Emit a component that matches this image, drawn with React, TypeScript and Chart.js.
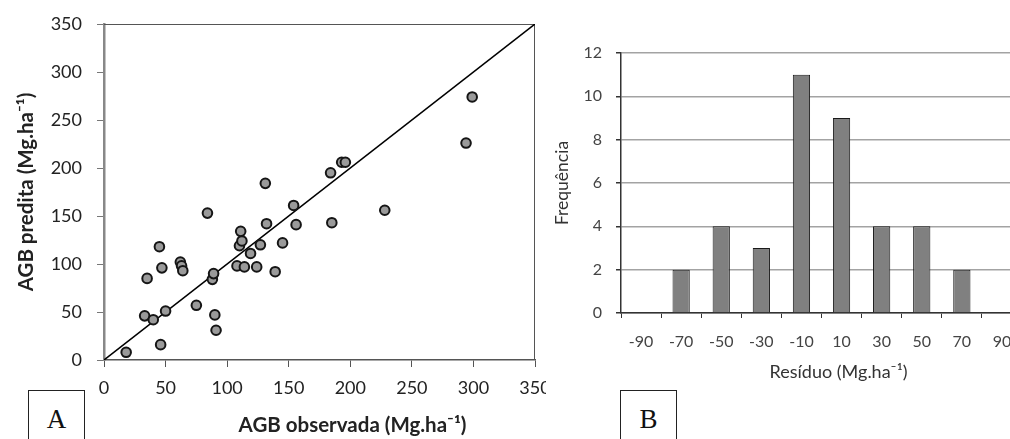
import React, { useEffect, useRef } from 'react';
import { Chart, registerables } from 'chart.js';

Chart.register(...registerables);

// ---- Panel A data: observed vs predicted AGB (Mg/ha) ----
const observed = [18, 33, 40, 50, 35, 45, 47, 46, 62, 63, 64, 75, 84, 88, 89, 90, 91, 108, 111, 110, 112, 114, 119, 124, 127, 132, 139, 145, 154, 156, 185, 131, 184, 193, 196, 299, 294, 228];
const predicted = [8, 46, 42, 51, 85, 118, 96, 16, 102, 98, 93, 57, 153, 84, 90, 47, 31, 98, 134, 119, 124, 97, 111, 97, 120, 142, 92, 122, 161, 141, 143, 184, 195, 206, 206, 274, 226, 156];
const identityLine = [0, 350];
const axisMinA = 0;
const axisMaxA = 350;
const axisStepA = 50;

// ---- Panel B data: residual histogram ----
const residualBins = ['-90', '-70', '-50', '-30', '-10', '10', '30', '50', '70', '90'];
const frequency = [0, 2, 4, 3, 11, 9, 4, 4, 2, 0];
const freqMax = 12;
const freqStep = 2;

const FONT = 'Lato, "Open Sans", "DejaVu Sans", sans-serif';

function captionPlugin(id: string, text: string, dx: number, yFromBottom: number, font: string, color: string) {
  return {
    id,
    afterDraw(chart: any) {
      const { ctx, chartArea } = chart;
      ctx.save();
      ctx.font = font;
      ctx.fillStyle = color;
      ctx.textAlign = 'center';
      ctx.textBaseline = 'middle';
      ctx.fillText(text, (chartArea.left + chartArea.right) / 2 + dx, chart.height - yFromBottom);
      ctx.restore();
    },
  };
}

const frameA = {
  id: 'frameA',
  beforeDatasetsDraw(chart: any) {
    const { ctx, chartArea: a } = chart;
    ctx.save();
    ctx.strokeStyle = '#555';
    ctx.lineWidth = 1;
    ctx.beginPath();
    ctx.moveTo(a.left, a.top + 0.5);
    ctx.lineTo(a.right - 0.5, a.top + 0.5);
    ctx.lineTo(a.right - 0.5, a.bottom);
    ctx.stroke();
    ctx.restore();
  },
};

export default function App() {
  const refA = useRef<HTMLCanvasElement>(null);
  const refB = useRef<HTMLCanvasElement>(null);

  useEffect(() => {
    Chart.defaults.font.family = FONT;

    const points = observed.map((x, i) => ({ x, y: predicted[i] }));
    const line = identityLine.map((v) => ({ x: v, y: v }));

    const chartA = new Chart(refA.current!, {
      type: 'scatter',
      data: {
        datasets: [
          {
            data: points,
            pointRadius: 4.8,
            pointBackgroundColor: '#9a9a9a',
            pointBorderColor: '#151515',
            pointBorderWidth: 2,
          },
          {
            data: line,
            showLine: true,
            pointRadius: 0,
            borderColor: '#000',
            borderWidth: 1.5,
          },
        ],
      },
      options: {
        animation: false,
        responsive: false,
        events: [],
        layout: { padding: { top: 24, right: 11, left: 0, bottom: 0 } },
        plugins: { legend: { display: false }, tooltip: { enabled: false } },
        scales: {
          x: {
            type: 'linear',
            min: axisMinA,
            max: axisMaxA,
            ticks: { stepSize: axisStepA, padding: 10, color: '#222', font: { size: 18 }, maxRotation: 0 },
            grid: { drawOnChartArea: false, tickLength: 7, color: '#555' },
            border: { color: '#555', width: 1.5 },
            afterFit(s: any) {
              s.height = 79;
              s.paddingLeft = 0;
              s.paddingRight = 0;
            },
          },
          y: {
            type: 'linear',
            min: axisMinA,
            max: axisMaxA,
            ticks: { stepSize: axisStepA, padding: 15, color: '#222', font: { size: 18 } },
            grid: { drawOnChartArea: false, tickLength: 7, color: '#777' },
            border: { color: '#888', width: 2.5 },
            title: {
              display: true,
              text: 'AGB predita (Mg.ha⁻¹)',
              color: '#222',
              font: { size: 20.5, weight: 'bold' },
              padding: { top: 14, bottom: 0 },
            },
            afterFit(s: any) {
              s.width = 104;
              s.paddingTop = 0;
              s.paddingBottom = 0;
            },
          },
        },
      },
      plugins: [
        frameA,
        captionPlugin('capA', 'AGB observada (Mg.ha⁻¹)', 33, 14, `bold 20.5px ${FONT}`, '#222'),
      ],
    } as any);

    const chartB = new Chart(refB.current!, {
      type: 'bar',
      data: {
        labels: residualBins,
        datasets: [
          {
            data: frequency,
            backgroundColor: '#808080',
            borderColor: '#1a1a1a',
            borderWidth: 1,
            barPercentage: 0.43,
            categoryPercentage: 1,
          },
        ],
      },
      options: {
        animation: false,
        responsive: false,
        events: [],
        layout: { padding: { top: 53, right: 8, left: 0, bottom: 0 } },
        plugins: { legend: { display: false }, tooltip: { enabled: false } },
        scales: {
          x: {
            ticks: { padding: 14, color: '#444', font: { size: 16 }, maxRotation: 0, autoSkip: false },
            grid: { drawOnChartArea: false, tickLength: 5, color: '#333', offset: true },
            border: { color: '#333', width: 1.5 },
            afterFit(s: any) {
              s.height = 126;
              s.paddingLeft = 0;
              s.paddingRight = 0;
            },
          },
          y: {
            min: 0,
            max: freqMax,
            ticks: { stepSize: freqStep, padding: 14, color: '#444', font: { size: 16 } },
            grid: { color: '#a3a3a3', lineWidth: 1.5, tickLength: 5, tickColor: '#333' },
            border: { color: '#333', width: 1.5 },
            title: {
              display: true,
              text: 'Frequência',
              color: '#333',
              font: { size: 17.5 },
              padding: { top: 12, bottom: 0 },
            },
            afterFit(s: any) {
              s.width = 81;
              s.paddingTop = 0;
              s.paddingBottom = 0;
            },
          },
        },
      },
      plugins: [captionPlugin('capB', 'Resíduo (Mg.ha⁻¹)', 17, 67, `18px ${FONT}`, '#333')],
    } as any);

    return () => {
      chartA.destroy();
      chartB.destroy();
    };
  }, []);

  const box = (left: number): React.CSSProperties => ({
    position: 'absolute',
    left,
    top: 390,
    width: 57,
    height: 60,
    border: '1px solid #222',
    boxSizing: 'border-box',
    background: '#fff',
    fontFamily: '"Liberation Serif", "DejaVu Serif", serif',
    fontSize: 27,
    lineHeight: '56px',
    textAlign: 'center',
    color: '#111',
  });

  return (
    <div
      style={{
        position: 'absolute',
        left: 0,
        top: 0,
        width: 1010,
        height: 439,
        overflow: 'hidden',
        background: '#fff',
      }}
    >
      <canvas ref={refA} width={546} height={439} style={{ position: 'absolute', left: 0, top: 0, width: 546, height: 439 }} />
      <canvas ref={refB} width={490} height={439} style={{ position: 'absolute', left: 540, top: 0, width: 490, height: 439 }} />
      <div style={box(28)}>A</div>
      <div style={box(620)}>B</div>
    </div>
  );
}
